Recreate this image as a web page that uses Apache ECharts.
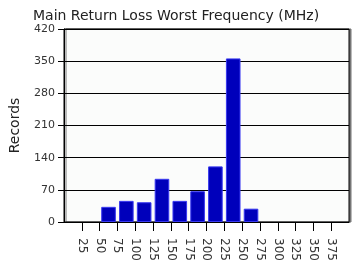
<!DOCTYPE html>
<html><head><meta charset="utf-8">
<script src="https://cdn.jsdelivr.net/npm/echarts@6/dist/echarts.min.js"></script>
<style>html,body{margin:0;padding:0;background:#fff}#c{width:357px;height:276px}</style>
</head><body><div id="c"></div>
<script>
// Histogram bins of 25 MHz, starting at 0 (null = empty bin)
var binStarts = [0,25,50,75,100,125,150,175,200,225,250,275,300,325,350,375];
var records   = [null,null,33,46,43,94,46,67,121,356,29,null,null,null,null,null];
var yTicks = {min:0, max:420, interval:70};
var xTicks = {min:0, max:400, interval:25};

var chart = echarts.init(document.getElementById('c'));
var font = 'DejaVu Sans';
chart.setOption({
  animation:false,
  backgroundColor:'#ffffff',
  title:{text:'Main Return Loss Worst Frequency (MHz)', left:28, top:4,
    textStyle:{fontFamily:font, fontSize:14, fontWeight:'normal', color:'#222'}},
  grid:{left:62, right:8, top:29, bottom:54, show:true, backgroundColor:'#fbfcfb',
    borderColor:'#000', borderWidth:1, shadowColor:'#777', shadowOffsetX:2, shadowBlur:0},
  xAxis:[
    {type:'category', data:binStarts.map(String), boundaryGap:true,
      axisLine:{show:false}, axisTick:{show:false}, axisLabel:{show:false}},
    {type:'value', position:'bottom', min:xTicks.min, max:xTicks.max, interval:xTicks.interval,
      axisLine:{show:true, onZero:false, lineStyle:{color:'#000'}},
      axisTick:{show:true, length:9, lineStyle:{color:'#000'}},
      splitLine:{show:false},
      axisLabel:{rotate:-90, margin:16, showMinLabel:false, showMaxLabel:false,
        fontFamily:font, fontSize:12, color:'#333'}}
  ],
  yAxis:{type:'value', min:yTicks.min, max:yTicks.max, interval:yTicks.interval,
    name:'Records', nameLocation:'middle', nameGap:42, nameRotate:90,
    nameTextStyle:{fontFamily:font, fontSize:14, color:'#222'},
    axisLine:{show:true, lineStyle:{color:'#000'}},
    axisTick:{show:true, length:6, lineStyle:{color:'#000'}},
    splitLine:{show:true, lineStyle:{color:'#000', width:1}},
    axisLabel:{fontFamily:font, fontSize:11, color:'#333', margin:9}},
  series:[{type:'bar', xAxisIndex:0, data:records, barCategoryGap:'18%',
    itemStyle:{color:'#0000bb', borderColor:'#3838f0', borderWidth:1}}]
});
</script></body></html>
